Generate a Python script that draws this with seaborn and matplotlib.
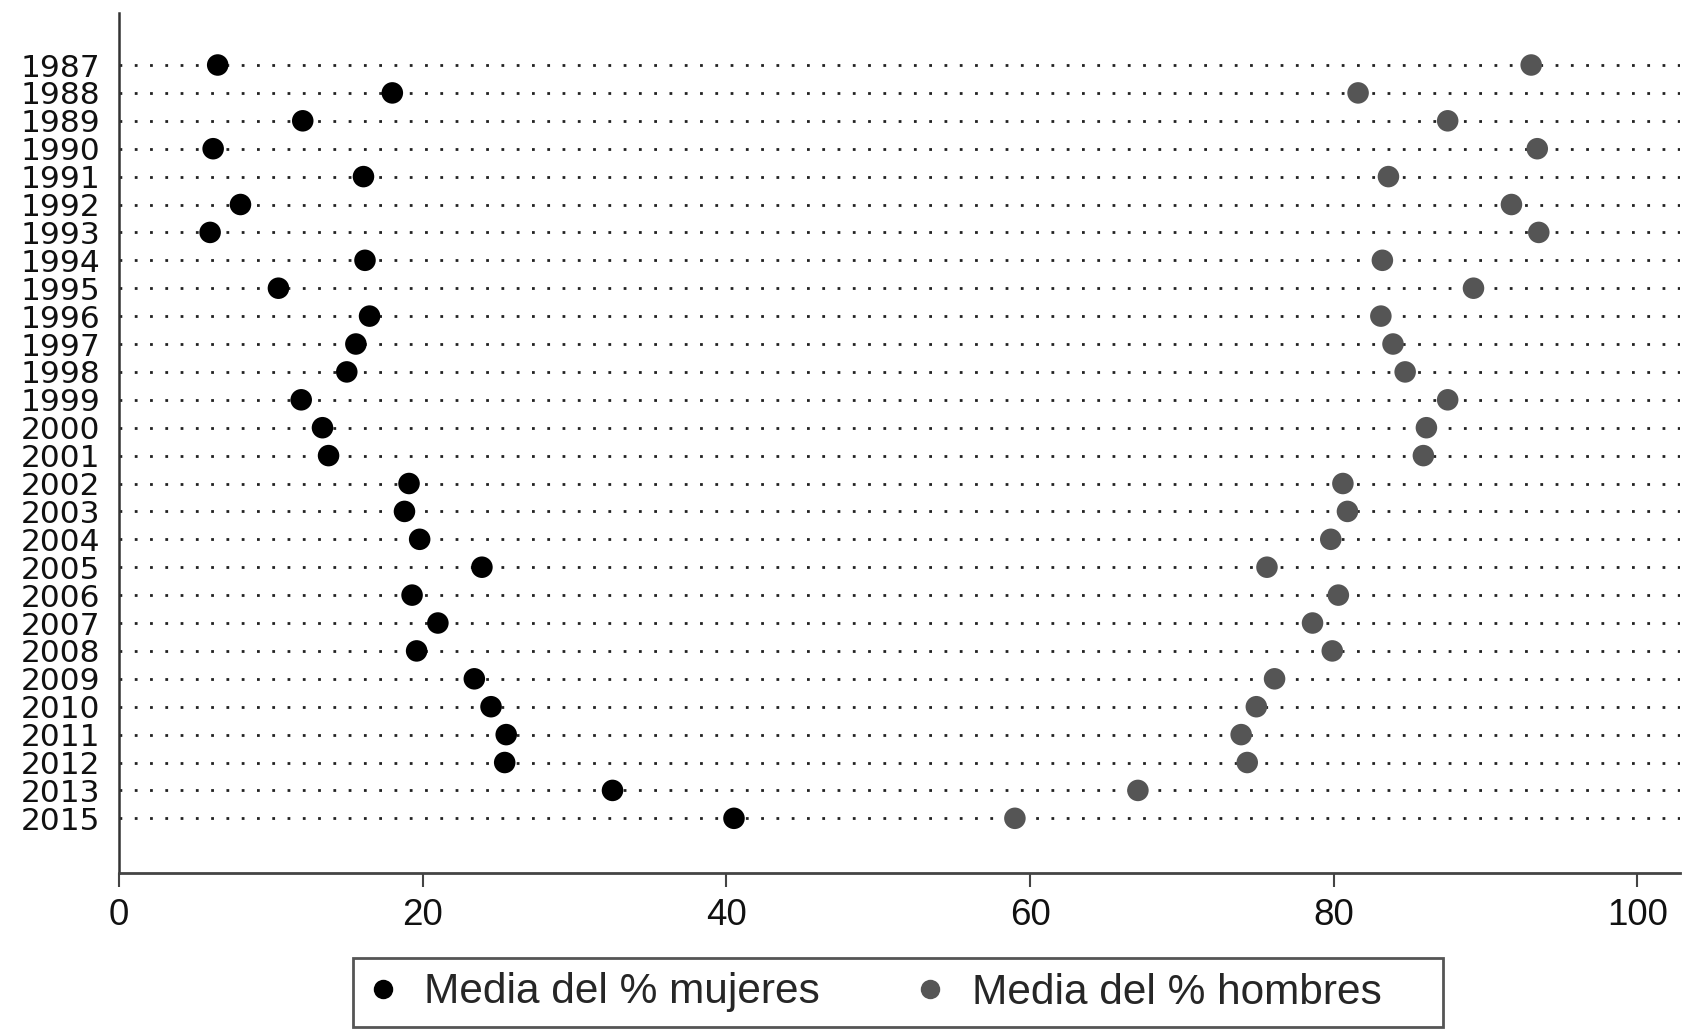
import matplotlib
matplotlib.use("Agg")
import matplotlib.pyplot as plt
from matplotlib.lines import Line2D
from matplotlib.patches import Rectangle
import seaborn as sns
import pandas as pd

years = ["1987", "1988", "1989", "1990", "1991", "1992", "1993", "1994", "1995",
         "1996", "1997", "1998", "1999", "2000", "2001", "2002", "2003", "2004",
         "2005", "2006", "2007", "2008", "2009", "2010", "2011", "2012", "2013", "2015"]
mujeres = [6.5, 18.0, 12.1, 6.2, 16.1, 8.0, 6.0, 16.2, 10.5,
           16.5, 15.6, 15.0, 12.0, 13.4, 13.8, 19.1, 18.8, 19.8,
           23.9, 19.3, 21.0, 19.6, 23.4, 24.5, 25.5, 25.4, 32.5, 40.5]
hombres = [93.0, 81.6, 87.5, 93.4, 83.6, 91.7, 93.5, 83.2, 89.2,
           83.1, 83.9, 84.7, 87.5, 86.1, 85.9, 80.6, 80.9, 79.8,
           75.6, 80.3, 78.6, 79.9, 76.1, 74.9, 73.9, 74.3, 67.1, 59.0]
series_labels = ["Media del % mujeres", "Media del % hombres"]
x_ticks = [0, 20, 40, 60, 80, 100]

colors = ["#000000", "#555555"]

df = pd.concat([
    pd.DataFrame({"year": years, "valor": mujeres, "serie": series_labels[0]}),
    pd.DataFrame({"year": years, "valor": hombres, "serie": series_labels[1]}),
], ignore_index=True)

sns.set_style("ticks")
plt.rcParams["font.family"] = ["Liberation Sans", "DejaVu Sans"]

fig = plt.figure(figsize=(16.94, 10.30), dpi=100)
ax = fig.add_axes([119 / 1694, 1 - 873 / 1030, (1680 - 119) / 1694, (873 - 13) / 1030])

sns.stripplot(data=df, x="valor", y="year", hue="serie", order=years,
              hue_order=series_labels, palette=colors, jitter=False, dodge=False,
              size=15.5, linewidth=0, legend=False, ax=ax, zorder=3)

ax.set_xlim(0, 102.8)
ax.set_ylim(28.96, -1.864)
ax.set_xticks(x_ticks)
ax.set_xticklabels([str(v) for v in x_ticks])
ax.set_xlabel("")
ax.set_ylabel("")

# dotted row guides
ax.set_axisbelow(True)
ax.yaxis.grid(True, color="#222222", linewidth=2.0, linestyle=(0, (1.0, 4.5)))
ax.xaxis.grid(False)

for s in ["top", "right"]:
    ax.spines[s].set_visible(False)
ax.spines["left"].set_color("#333333")
ax.spines["left"].set_linewidth(1.8)
ax.spines["bottom"].set_color("#444444")
ax.spines["bottom"].set_linewidth(2.0)

ax.tick_params(axis="x", length=10, width=1.5, color="#444444", pad=8,
               labelsize=26.5, labelcolor="#111111")
ax.tick_params(axis="y", length=0, pad=13.5, labelsize=22.5, labelcolor="#111111")
for lab in ax.get_yticklabels():
    lab.set_family("DejaVu Sans")

handles = [Line2D([], [], linestyle="none", marker="o", markersize=14,
                  markerfacecolor=c, markeredgewidth=0) for c in colors]
fig.legend(handles, series_labels, loc="center left",
           bbox_to_anchor=(353 / 1694, 1 - 992.5 / 1030), frameon=False, ncol=2,
           fontsize=30.5, handlelength=0.6, handletextpad=0.68, columnspacing=2.3,
           borderpad=0.4, borderaxespad=0)
fig.patches.append(Rectangle((353 / 1694, 3 / 1030), 1090 / 1694, 69 / 1030,
                             transform=fig.transFigure, fill=False,
                             edgecolor="#555555", linewidth=2.0))

fig.savefig("out.png", dpi=100)
